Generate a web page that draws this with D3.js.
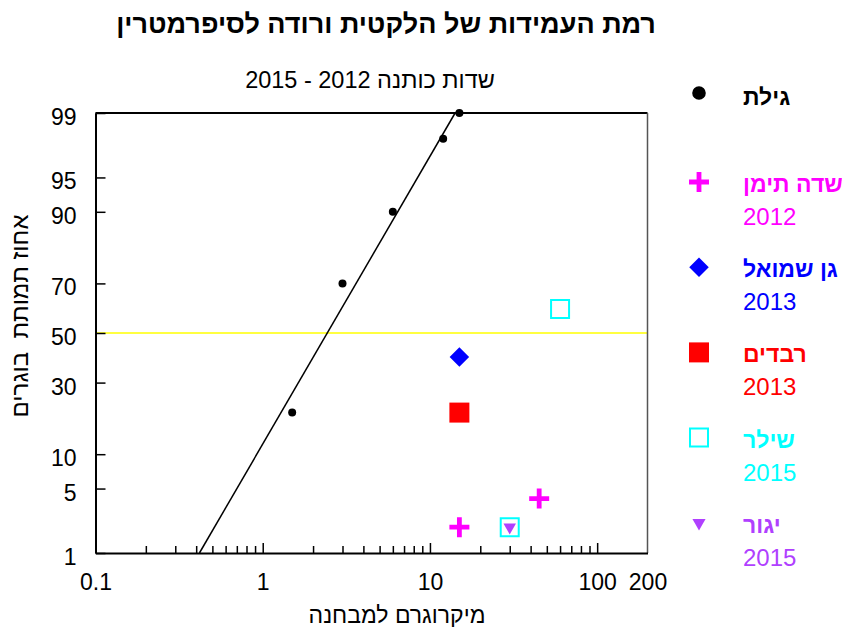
<!DOCTYPE html>
<html>
<head>
<meta charset="utf-8">
<script src="https://cdn.jsdelivr.net/npm/d3@7"></script>
<style>
  html, body { margin: 0; padding: 0; background: #fff; }
  svg { display: block; font-family: "Liberation Sans", Arial, sans-serif; }
</style>
</head>
<body>
<svg id="chart" width="842" height="630"></svg>
<script>
// Bioassay results: dose (µg per vial) vs. adult mortality (%)
const gilatDose = [1.5, 3, 6, 12, 15];
const gilatMort = [20, 70, 90, 98, 99];
const sdeTeimanDose = [15, 45];
const sdeTeimanMort = [2, 4];
const ganShmuelDose = [15];
const ganShmuelMort = [40];
const revadimDose = [15];
const revadimMort = [20];
const shilerDose = [60, 30];
const shilerMort = [60, 2];
const yagurDose = [30];
const yagurMort = [2];

const seriesNames = ["גילת", "שדה תימן", "גן שמואל", "רבדים", "שילר", "יגור"];
const seriesYears = ["", "2012", "2013", "2013", "2015", "2015"];
const seriesColors = ["#000000", "#FF00FF", "#0000FF", "#FF0000", "#00FFFF", "#B040FF"];
const seriesSymbols = ["dot", "plus", "diamond", "square", "openSquare", "triangleDown"];

const yTicks = [1, 5, 10, 30, 50, 70, 90, 95, 99];
const xLabelTicks = [0.1, 1, 10, 100, 200];
const xMajorTicks = [1, 10, 100];
const xMinorTicks = [0.2, 0.3, 0.4, 0.5, 0.6, 0.7, 0.8, 0.9,
                     2, 3, 4, 5, 6, 7, 8, 9,
                     20, 30, 40, 50, 60, 70, 80, 90];
const referenceLine = 50;

const titleText = "רמת העמידות של הלקטית ורודה לסיפרמטרין";
const subtitleText = "שדות כותנה 2012 - 2015";
const xTitle = "מיקרוגרם למבחנה";
const yTitle = "אחוז תמותת  בוגרים";

// Inverse standard normal CDF (Acklam's rational approximation)
function probit(p) {
  const a = [-3.969683028665376e+01, 2.209460984245205e+02, -2.759285104469687e+02,
             1.383577518672690e+02, -3.066479806614716e+01, 2.506628277459239e+00];
  const b = [-5.447609879822406e+01, 1.615858368580409e+02, -1.556989798598866e+02,
             6.680131188771972e+01, -1.328068155288572e+01];
  const c = [-7.784894002430293e-03, -3.223964580411365e-01, -2.400758277161838e+00,
             -2.549671010115293e+00, 4.374664141464968e+00, 2.938163982698783e+00];
  const d = [7.784695709041462e-03, 3.224671290700398e-01, 2.445134137142996e+00,
             3.754408661907416e+00];
  const pl = 0.02425, ph = 1 - pl;
  let q, r;
  if (p < pl) {
    q = Math.sqrt(-2 * Math.log(p));
    return (((((c[0]*q+c[1])*q+c[2])*q+c[3])*q+c[4])*q+c[5]) /
           ((((d[0]*q+d[1])*q+d[2])*q+d[3])*q+1);
  }
  if (p <= ph) {
    q = p - 0.5; r = q * q;
    return (((((a[0]*r+a[1])*r+a[2])*r+a[3])*r+a[4])*r+a[5])*q /
           (((((b[0]*r+b[1])*r+b[2])*r+b[3])*r+b[4])*r+1);
  }
  q = Math.sqrt(-2 * Math.log(1 - p));
  return -(((((c[0]*q+c[1])*q+c[2])*q+c[3])*q+c[4])*q+c[5]) /
          ((((d[0]*q+d[1])*q+d[2])*q+d[3])*q+1);
}

const svg = d3.select("#chart");
const plot = { left: 95.5, right: 647.5, top: 113, bottom: 553 };

// x: log dose; y: probit of mortality percentage
const x = d3.scaleLog().domain([0.1, 200]).range([plot.left, plot.right]);
const yz = d3.scaleLinear()
  .domain([probit(0.01), probit(0.99)])
  .range([plot.bottom, plot.top]);
const y = pct => yz(probit(pct / 100));

// Titles
svg.append("text")
  .attr("x", 386).attr("y", 33)
  .attr("text-anchor", "middle").attr("direction", "rtl")
  .style("font-size", "27px").style("font-weight", "bold")
  .text(titleText);

svg.append("text")
  .attr("x", 370).attr("y", 88)
  .attr("text-anchor", "middle").attr("direction", "rtl")
  .style("font-size", "23.5px")
  .text(subtitleText);

// Reference line at 50%
svg.append("line")
  .attr("x1", plot.left).attr("x2", plot.right)
  .attr("y1", y(referenceLine)).attr("y2", y(referenceLine))
  .attr("stroke", "#FFFF00").attr("stroke-width", 1.5);

// Frame (top and right)
svg.append("line")
  .attr("x1", plot.left).attr("x2", plot.right)
  .attr("y1", plot.top).attr("y2", plot.top)
  .attr("stroke", "#000").attr("stroke-width", 2);
svg.append("line")
  .attr("x1", plot.right).attr("x2", plot.right)
  .attr("y1", plot.top).attr("y2", plot.bottom)
  .attr("stroke", "#555").attr("stroke-width", 1.5);

// Y axis (probit scale, ticks pointing inward)
const yAxis = d3.axisLeft(yz)
  .tickValues(yTicks.map(t => probit(t / 100)))
  .tickFormat((d, i) => yTicks[i])
  .tickSizeInner(-10).tickSizeOuter(0).tickPadding(19);
const gy = svg.append("g").attr("transform", `translate(${plot.left},0)`).call(yAxis);
gy.select(".domain").attr("stroke-width", 2);
gy.selectAll(".tick line").attr("stroke-width", 1.5);
gy.selectAll(".tick text")
  .attr("dy", "0.5em")
  .style("font-size", "23px").attr("fill", "#000");

// X axis: minor ticks, major ticks, labels
const gxMinor = svg.append("g").attr("transform", `translate(0,${plot.bottom})`)
  .call(d3.axisBottom(x).tickValues(xMinorTicks).tickSizeInner(-7).tickSizeOuter(0).tickFormat(""));
gxMinor.select(".domain").remove();
gxMinor.selectAll(".tick line").attr("stroke-width", 1.5);

const gxMajor = svg.append("g").attr("transform", `translate(0,${plot.bottom})`)
  .call(d3.axisBottom(x).tickValues(xMajorTicks).tickSizeInner(-10).tickSizeOuter(0).tickFormat(""));
gxMajor.select(".domain").remove();
gxMajor.selectAll(".tick line").attr("stroke-width", 1.5);

const gx = svg.append("g").attr("transform", `translate(0,${plot.bottom})`)
  .call(d3.axisBottom(x).tickValues(xLabelTicks).tickSize(0).tickPadding(21)
    .tickFormat(d => String(d)));
gx.select(".domain").attr("stroke-width", 2);
gx.selectAll(".tick text").style("font-size", "23px").attr("fill", "#000");

// Axis titles
svg.append("text")
  .attr("x", 397).attr("y", 623)
  .attr("text-anchor", "middle").attr("direction", "rtl")
  .style("font-size", "23px")
  .text(xTitle);

svg.append("text")
  .attr("transform", "translate(28,316) rotate(-90)")
  .attr("text-anchor", "middle").attr("direction", "rtl")
  .style("font-size", "24px").style("white-space", "pre")
  .attr("xml:space", "preserve")
  .text(yTitle);

// Probit regression for the susceptible (Gilat) population
const lx = gilatDose.map(Math.log10);
const lz = gilatMort.map(m => probit(m / 100));
const mx = d3.mean(lx), mz = d3.mean(lz);
const slope = d3.sum(lx, (v, i) => (v - mx) * (lz[i] - mz)) / d3.sum(lx, v => (v - mx) ** 2);
const intercept = mz - slope * mx;
const fitEnds = [probit(0.01), probit(0.99)];
svg.append("path")
  .datum(fitEnds)
  .attr("d", d3.line()
    .x(z => x(Math.pow(10, (z - intercept) / slope)))
    .y(z => yz(z)))
  .attr("fill", "none").attr("stroke", "#000").attr("stroke-width", 1.5);

// Marker drawing helpers
function symbolPath(kind, scale) {
  const s = scale;
  switch (kind) {
    case "dot": return d3.symbol(d3.symbolCircle, Math.PI * (4 * s) ** 2)();
    case "diamond": return d3.symbol(d3.symbolSquare, (13.8 * s) ** 2)();
    case "square": return d3.symbol(d3.symbolSquare, (20 * s) ** 2)();
    case "openSquare": return d3.symbol(d3.symbolSquare, (18 * s) ** 2)();
    case "triangleDown": return d3.symbol(d3.symbolTriangle, 0.433 * (12.5 * s) ** 2)();
    case "plus": {
      const h = 10 * s, w = 2.4 * s;
      return `M${-w},${-h}H${w}V${-w}H${h}V${w}H${w}V${h}H${-w}V${w}H${-h}V${-w}H${-w}Z`;
    }
  }
}
function drawMarker(g, kind, color, cx, cy, scale) {
  const p = g.append("path")
    .attr("d", symbolPath(kind, scale))
    .attr("transform", `translate(${cx},${cy})` +
      (kind === "diamond" ? " rotate(45)" : kind === "triangleDown" ? " rotate(180)" : ""));
  if (kind === "openSquare") {
    p.attr("fill", "none").attr("stroke", color).attr("stroke-width", 2);
  } else {
    p.attr("fill", color);
  }
}

// Data markers
const gMarks = svg.append("g");
const seriesData = [
  [gilatDose, gilatMort],
  [sdeTeimanDose, sdeTeimanMort],
  [ganShmuelDose, ganShmuelMort],
  [revadimDose, revadimMort],
  [shilerDose, shilerMort],
  [yagurDose, yagurMort]
];
seriesData.forEach(([dose, mort], i) => {
  dose.forEach((dv, j) => {
    drawMarker(gMarks, seriesSymbols[i], seriesColors[i], x(dv), y(mort[j]), 1);
  });
});

// Legend
const gLegend = svg.append("g");
seriesNames.forEach((name, i) => {
  const ly = i === 0 ? 93 : 182 + (i - 1) * 85.2;
  drawMarker(gLegend, seriesSymbols[i], seriesColors[i], 699, ly,
    seriesSymbols[i] === "dot" ? 1.7 : seriesSymbols[i] === "triangleDown" ? 1.05 : 1);
  gLegend.append("text")
    .attr("x", 743).attr("y", ly + (i === 0 ? 12 : 10))
    .style("font-size", "23px").style("font-weight", "bold")
    .attr("fill", seriesColors[i])
    .text(name);
  if (seriesYears[i]) {
    gLegend.append("text")
      .attr("x", 743).attr("y", ly + 43)
      .style("font-size", "24px")
      .attr("fill", seriesColors[i])
      .text(seriesYears[i]);
  }
});
</script>
</body>
</html>
